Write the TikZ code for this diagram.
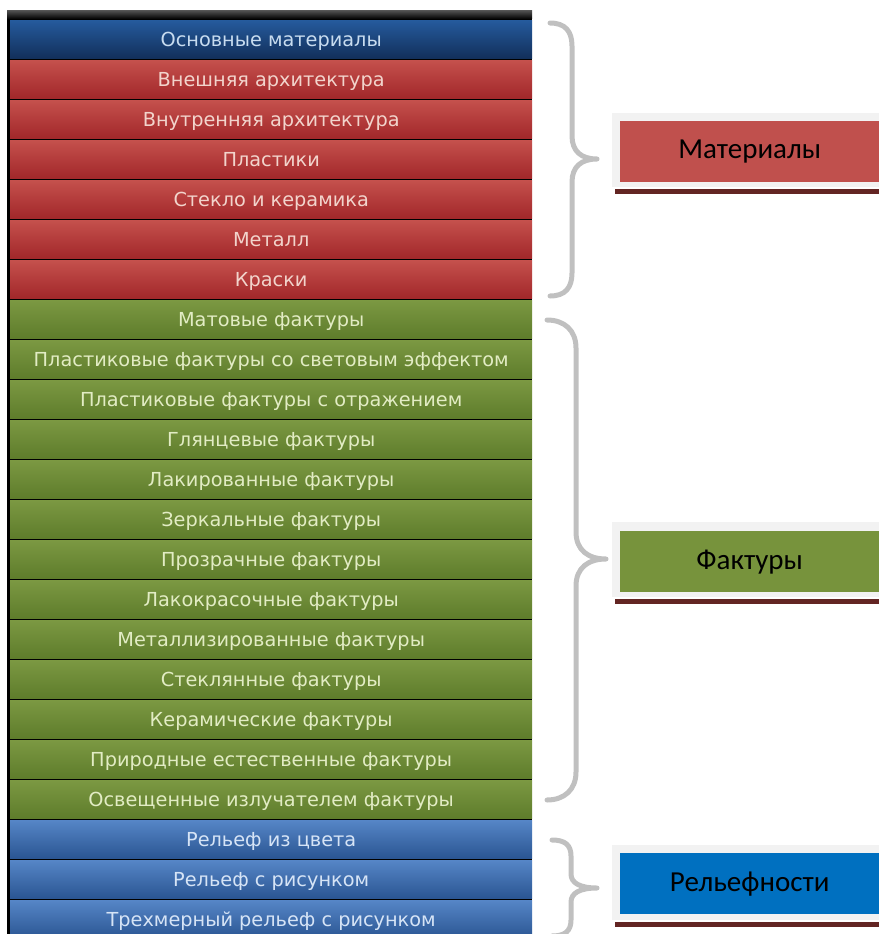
\documentclass[tikz,border=0pt]{standalone}
\usepackage{fontspec}
\setmainfont{DejaVu Sans}
\newfontfamily\boxfont{Carlito}
\definecolor{redT}{HTML}{C4504C}
\definecolor{redB}{HTML}{A2272A}
\definecolor{redTx}{HTML}{F2D4CC}
\definecolor{dblT}{HTML}{255A9C}
\definecolor{dblB}{HTML}{122F5A}
\definecolor{dblTx}{HTML}{C8DCF0}
\definecolor{grnT}{HTML}{7B9842}
\definecolor{grnB}{HTML}{5E7C2B}
\definecolor{grnTx}{HTML}{E2ECC4}
\definecolor{bluT}{HTML}{5585C6}
\definecolor{bluB}{HTML}{2A5592}
\definecolor{bluTx}{HTML}{D6E4F6}
\definecolor{braceC}{HTML}{C0C0C0}
\definecolor{frameC}{HTML}{F2F2F2}
\definecolor{lineC}{HTML}{632523}
\definecolor{boxRed}{HTML}{C0504D}
\definecolor{boxGrn}{HTML}{77933C}
\definecolor{boxBlu}{HTML}{0070C0}
\tikzset{
  bar/.style={minimum width=522pt, minimum height=38pt, inner sep=0pt, anchor=north west,
    text height=14pt, text depth=0pt, font=\fontsize{19.3}{19.3}\selectfont},
  redbar/.style={bar, top color=redT, bottom color=redB, text=redTx},
  dblbar/.style={bar, top color=dblT, bottom color=dblB, text=dblTx},
  grnbar/.style={bar, top color=grnT, bottom color=grnB, text=grnTx},
  blubar/.style={bar, top color=bluT, bottom color=bluB, text=bluTx},
  bracepath/.style={draw=braceC, line width=5pt, line cap=round, line join=round},
  catbox/.style={minimum width=259pt, minimum height=61pt, inner sep=0pt, anchor=north west,
    text=black, font=\boxfont\fontsize{29}{29}\selectfont},
}
\begin{document}
\begin{tikzpicture}[x=1pt,y=-1pt]
\useasboundingbox (0,0) rectangle (879,934);
\fill[black] (7,11) rectangle (532,934);
\fill[top color=black!70, bottom color=black] (7,11) rectangle (532,19);
% bars
\node[dblbar] (b1) at (10,20.5) {Основные материалы};
\foreach \t [count=\i from 2] in {Внешняя архитектура,Внутренняя архитектура,Пластики,Стекло и керамика,Металл,Краски}{
  \node[redbar] (b\i) at (10,{20.5+(\i-1)*40}) {\t};
}
\foreach \t [count=\i from 8] in {Матовые фактуры,Пластиковые фактуры со световым эффектом,Пластиковые фактуры с отражением,Глянцевые фактуры,Лакированные фактуры,Зеркальные фактуры,Прозрачные фактуры,Лакокрасочные фактуры,Металлизированные фактуры,Стеклянные фактуры,Керамические фактуры,Природные естественные фактуры,Освещенные излучателем фактуры}{
  \node[grnbar] (b\i) at (10,{20.5+(\i-1)*40}) {\t};
}
\foreach \t [count=\i from 21] in {Рельеф из цвета,Рельеф с рисунком,Трехмерный рельеф с рисунком}{
  \node[blubar] (b\i) at (10,{20.5+(\i-1)*40}) {\t};
}
% braces
\draw[bracepath] (550,23) .. controls (565,23) and (572,31) .. (572,46) -- (572,136)
  .. controls (572,151) and (581,159) .. (597,159)
  .. controls (581,159) and (572,167) .. (572,182) -- (572,273)
  .. controls (572,288) and (565,296) .. (550,296);
\draw[bracepath] (547,320) .. controls (564,320) and (576,330) .. (576,348) -- (576,532)
  .. controls (576,550) and (588,559) .. (606,559)
  .. controls (588,559) and (576,568) .. (576,586) -- (576,772)
  .. controls (576,790) and (564,800) .. (547,800);
\draw[bracepath] (552,840) .. controls (565,840) and (571,845) .. (571,856) -- (571,874)
  .. controls (571,883) and (580,888) .. (597,888)
  .. controls (580,888) and (571,893) .. (571,902) -- (571,920)
  .. controls (571,931) and (565,936) .. (552,936);
% category boxes
\fill[lineC] (615,189) rectangle (879,194);
\fill[frameC] (612,113) rectangle (879,187);
\node[catbox, fill=boxRed] (m) at (620,121) {Материалы};
\fill[lineC] (615,599) rectangle (879,604);
\fill[frameC] (612,522) rectangle (879,597);
\node[catbox, fill=boxGrn] (f) at (620,531) {Фактуры};
\fill[lineC] (615,922) rectangle (879,927);
\fill[frameC] (612,845) rectangle (879,920);
\node[catbox, fill=boxBlu] (r) at (620,853) {Рельефности};
\end{tikzpicture}
\end{document}
